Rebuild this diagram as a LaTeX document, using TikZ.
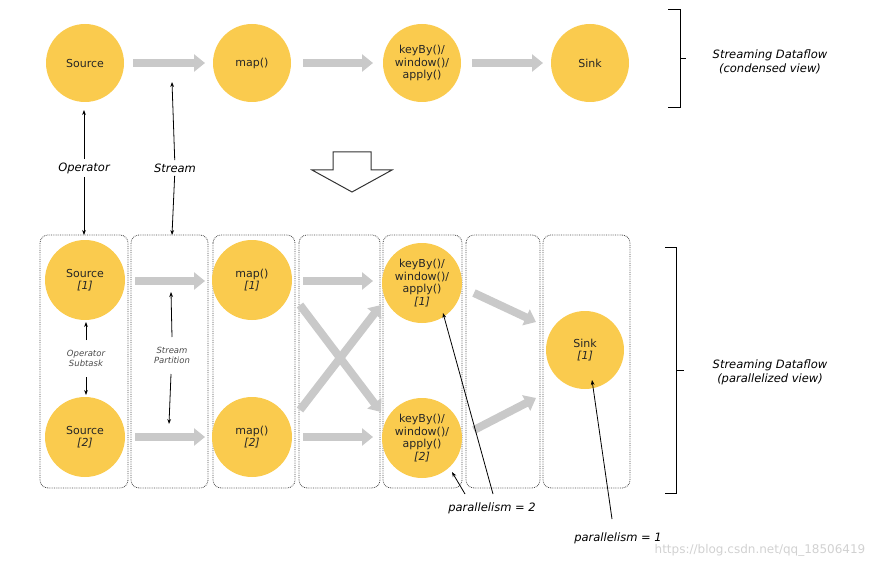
\documentclass[tikz,border=0pt]{standalone}
\usepackage{fontspec}
\setmainfont{DejaVu Sans}
\usetikzlibrary{arrows.meta}
\definecolor{op}{HTML}{FACB4E}
\definecolor{ga}{HTML}{C9C9C9}
\begin{document}
\begin{tikzpicture}[x=1pt,y=-1pt,
 op/.style={circle,fill=op,minimum size=78pt,inner sep=0pt,align=center,font=\fontsize{11}{12.5}\selectfont,text=black!85},
 sop/.style={op,minimum size=80pt},
 flow/.style={draw=ga,line width=8pt,-{Triangle[length=11pt,width=17pt]}},
 box/.style={draw=black!70,densely dotted,rounded corners=8pt,line width=0.8pt},
 lab/.style={font=\itshape\fontsize{11.5}{14}\selectfont,align=center},
 slab/.style={font=\itshape\fontsize{8.5}{10}\selectfont,align=center,text=black!70},
 ptr/.style={-{Stealth[length=5pt]},line width=0.8pt}]
\useasboundingbox (0,0) rectangle (890,569);
% top
\node[op] (s) at (85,63) {Source};
\node[op] (m) at (252,63) {map()};
\node[op] (k) at (422,63) {keyBy()/\\window()/\\apply()};
\node[op] (t) at (590,63) {Sink};
\coordinate (a1) at (133,63); \coordinate (a2) at (205,63);
\coordinate (b1) at (303,63); \coordinate (b2) at (373,63);
\coordinate (c1) at (472,63); \coordinate (c2) at (543,63);
\draw[flow] (a1)--(a2); \draw[flow] (b1)--(b2); \draw[flow] (c1)--(c2);
\draw[line width=1pt] (668,10)--(680,10)--(680,108)--(668,108) (680,59)--(686,59);
\node[lab] (cv) at (770,62) {Streaming Dataflow\\(condensed view)};
\draw[line width=1pt,black!80,fill=white] (333,152)--(371,152)--(371,170)--(392,170)--(352,192)--(312,170)--(333,170)--cycle;
% boxes
\foreach \a/\b [count=\i] in {40/128,131/208,213/295,299/380,383/462,466/540,543/630}
 \draw[box] (\a,235) rectangle (\b,488);
% labels top
\node[lab] (opl) at (84,168) {Operator};
\node[lab] (stl) at (175,168) {Stream};
\coordinate (o1) at (84,110); \coordinate (o2) at (84,235);
\coordinate (t1) at (172,82); \coordinate (t2) at (172,235);
\draw[ptr] (opl)--(o1); \draw[ptr] (opl)--(o2);
\draw[ptr] (stl)--(t1); \draw[ptr] (stl)--(t2);
% bottom nodes
\node[sop] (s1) at (85,280) {Source\\\textit{[1]}};
\node[sop] (s2) at (85,437) {Source\\\textit{[2]}};
\node[sop] (m1) at (252,280) {map()\\\textit{[1]}};
\node[sop] (m2) at (252,437) {map()\\\textit{[2]}};
\node[sop] (k1) at (422,283) {keyBy()/\\window()/\\apply()\\\textit{[1]}};
\node[sop] (k2) at (422,438) {keyBy()/\\window()/\\apply()\\\textit{[2]}};
\node[op] (sk) at (585,350) {Sink\\\textit{[1]}};
\foreach \y in {281,437}{\draw[flow] (135,\y)--(205,\y); \draw[flow] (303,\y)--(373,\y);}
\draw[flow] (300,305)--(381,412);
\draw[flow] (300,410)--(381,305);
\draw[flow] (474,293)--(536,322);
\draw[flow] (474,430)--(536,398);
\node[slab] (ost) at (86,358) {Operator\\Subtask};
\draw[ptr] (86,340)--(86,322); \draw[ptr] (86,377)--(86,395);
\node[slab] (spl) at (172,355) {Stream\\Partition};
\draw[ptr] (172,337)--(171,292); \draw[ptr] (171,374)--(169,424);
% parallelism
\node[lab] (p2) at (492,508) {parallelism = 2};
\draw[ptr] (493,494)--(443,313);
\draw[ptr] (465,494)--(452,472);
\node[lab] (p1) at (618,538) {parallelism = 1};
\draw[ptr] (612,519)--(592,380);
\draw[line width=1pt] (665,247)--(676,247)--(676,493)--(665,493) (676,370)--(684,370);
\node[lab] (pv) at (770,372) {Streaming Dataflow\\(parallelized view)};
\node[text=black!18,font=\fontsize{12}{13}\selectfont] (wm) at (760,550) {https://blog.csdn.net/qq\_18506419};
\end{tikzpicture}
\end{document}
